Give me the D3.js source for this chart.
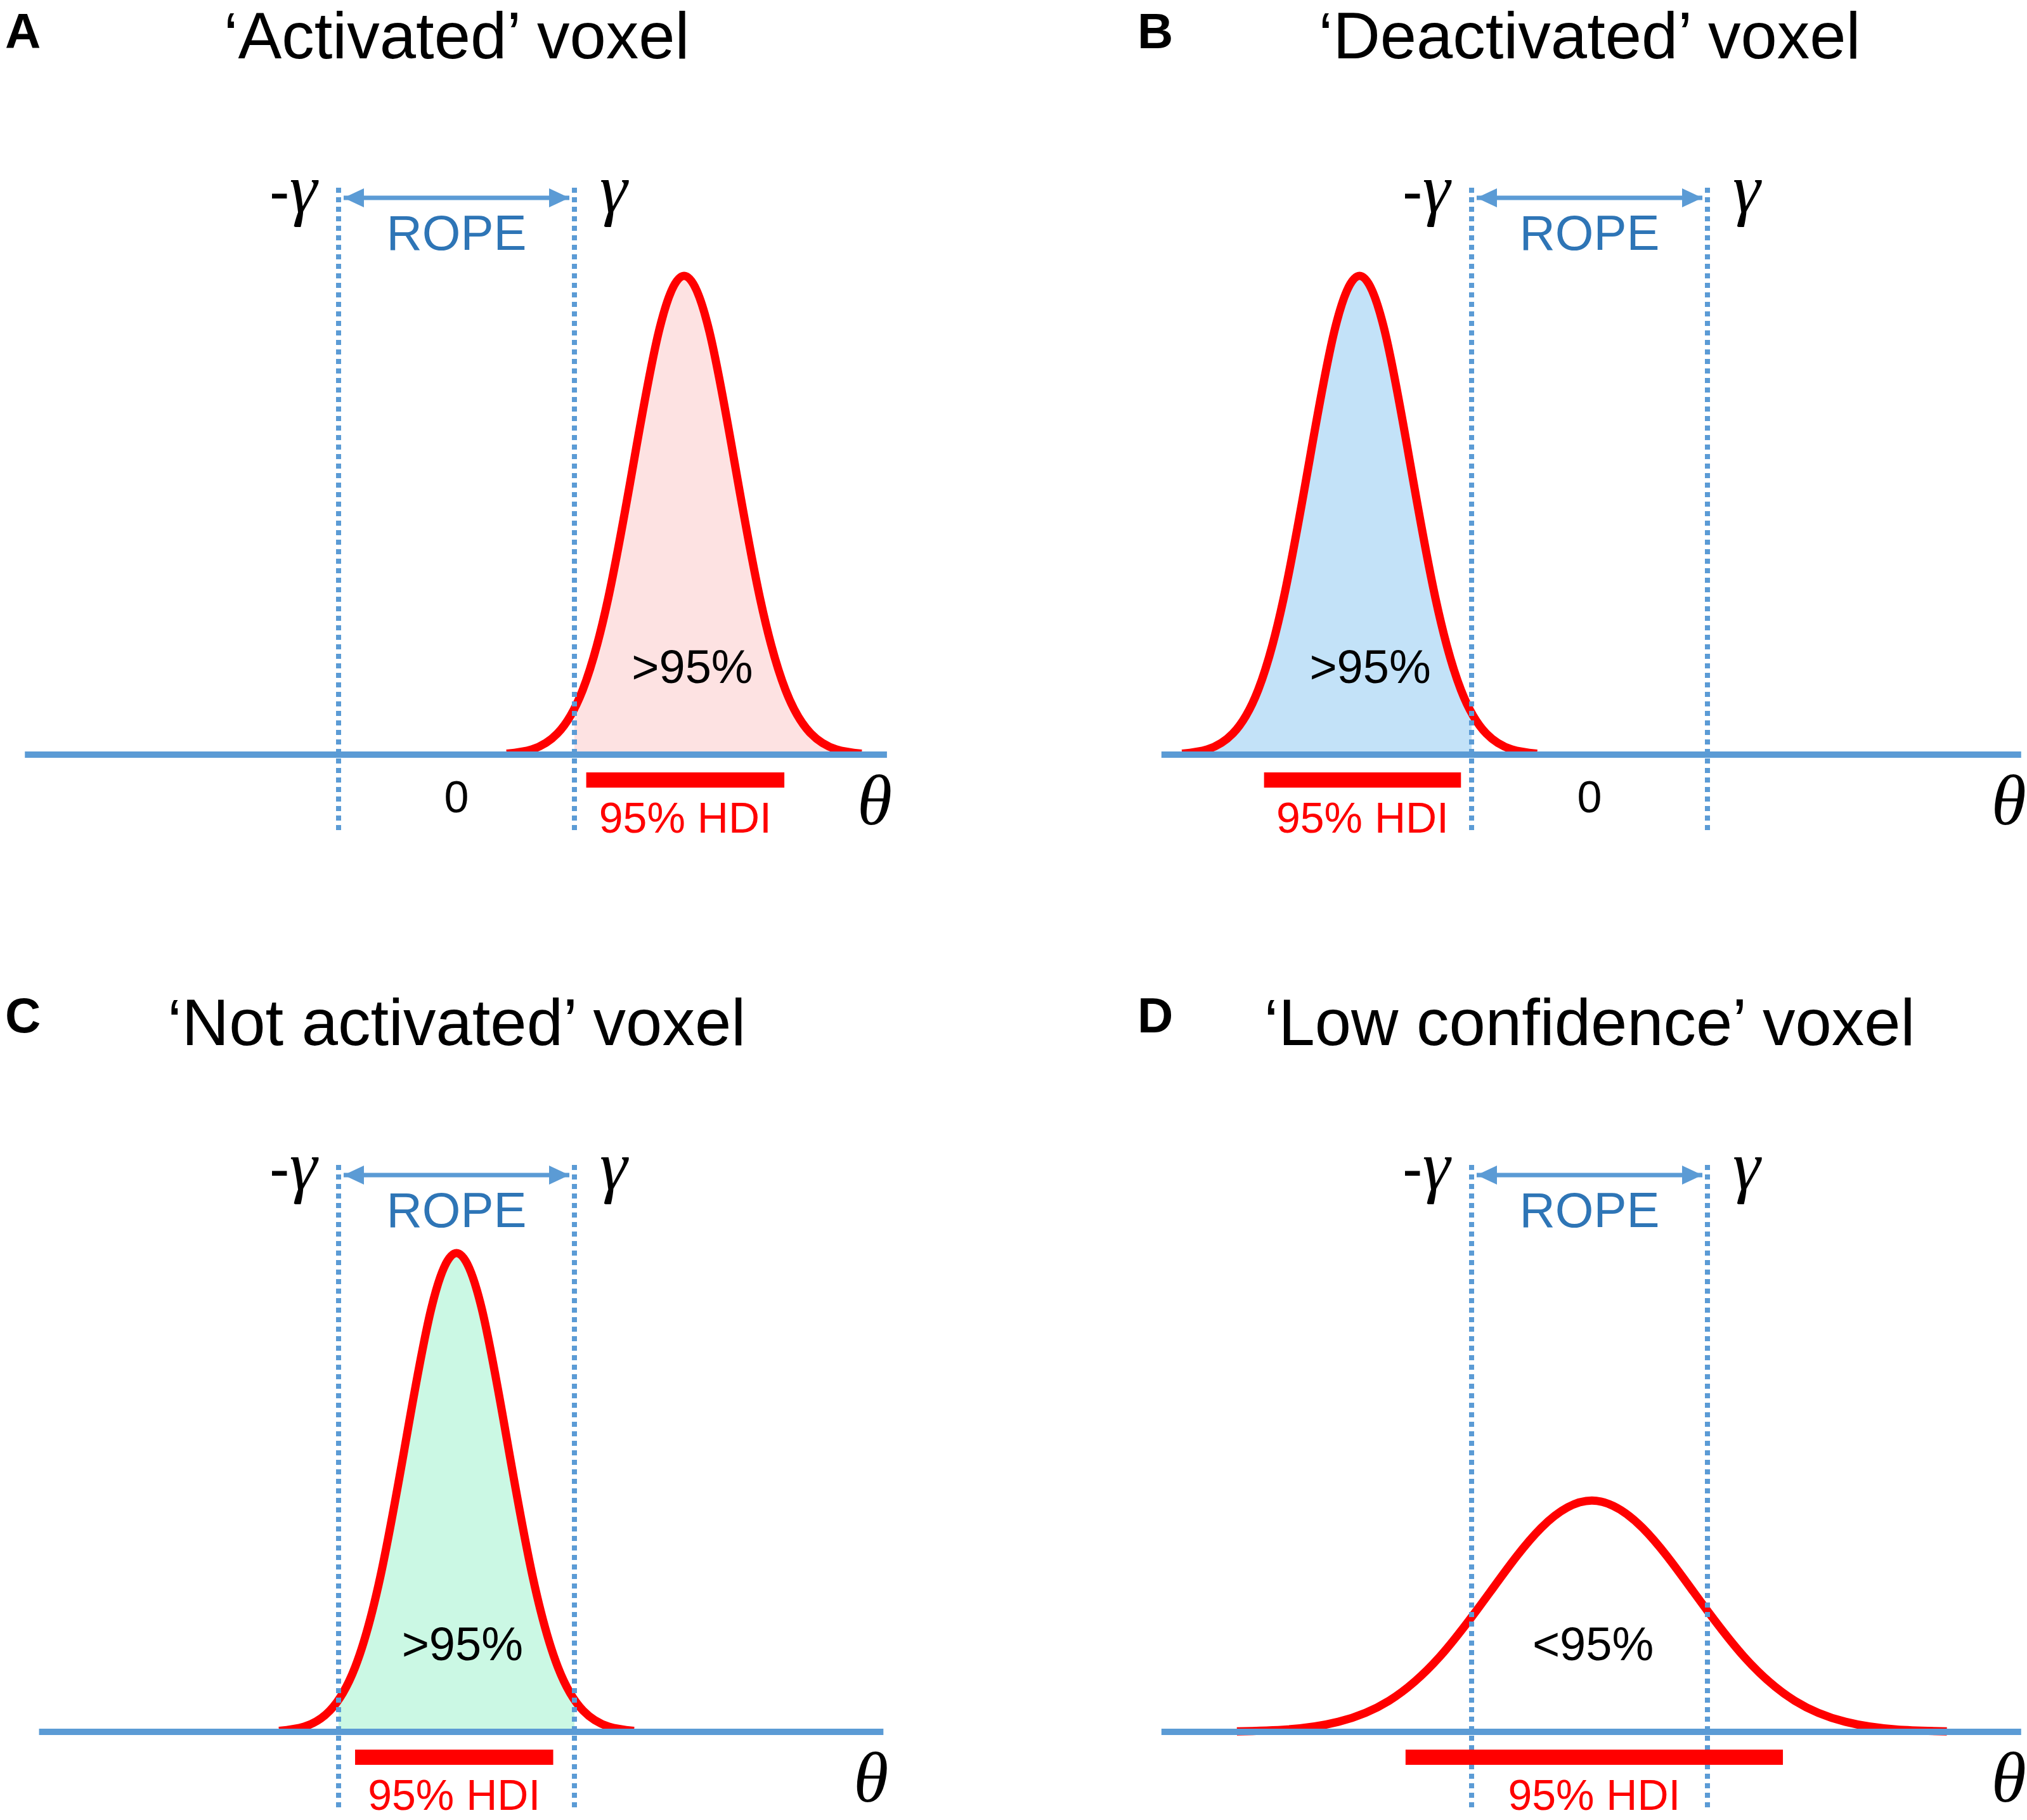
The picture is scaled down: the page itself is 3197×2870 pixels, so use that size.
<!DOCTYPE html>
<html>
<head>
<meta charset="utf-8">
<script src="https://cdnjs.cloudflare.com/ajax/libs/d3/7.8.5/d3.min.js"></script>
<style>
  body { margin: 0; background: #fff; }
  svg { display: block; }
</style>
</head>
<body>
<div id="chart"></div>
<script>
// panel data
const panelLetters = ['A', 'B', 'C', 'D'];
const panelTitles = ['‘Activated’ voxel', '‘Deactivated’ voxel', '‘Not activated’ voxel', '‘Low confidence’ voxel'];
const ropeBounds = [-1, 1];
const axisExtents = [[-3.66, 3.65], [-3.63, 3.66], [-3.54, 3.62], [-3.63, 3.66]];

// posterior curves (theta, relative height)
const curveTheta = [
    [0.425, 0.64, 0.855, 1.07, 1.285, 1.50, 1.715, 1.93, 2.145, 2.36, 2.575, 2.79, 3.005, 3.22, 3.435],
    [-3.455, -3.24, -3.025, -2.81, -2.595, -2.38, -2.165, -1.95, -1.735, -1.52, -1.305, -1.09, -0.875, -0.66, -0.445],
    [-1.505, -1.29, -1.075, -0.86, -0.645, -0.43, -0.215, 0, 0.215, 0.43, 0.645, 0.86, 1.075, 1.29, 1.505],
    [-2.99, -2.56, -2.13, -1.70, -1.27, -0.84, -0.41, 0.02, 0.45, 0.88, 1.31, 1.74, 2.17, 2.60, 3.03]
];
const curveHeight = [
    [0.002, 0.011, 0.044, 0.135, 0.325, 0.607, 0.883, 1, 0.883, 0.607, 0.325, 0.135, 0.044, 0.011, 0.002],
    [0.002, 0.011, 0.044, 0.135, 0.325, 0.607, 0.883, 1, 0.883, 0.607, 0.325, 0.135, 0.044, 0.011, 0.002],
    [0.002, 0.011, 0.044, 0.135, 0.325, 0.607, 0.883, 1, 0.883, 0.607, 0.325, 0.135, 0.044, 0.011, 0.002],
    [0.001, 0.005, 0.021, 0.065, 0.157, 0.293, 0.426, 0.483, 0.426, 0.293, 0.157, 0.065, 0.021, 0.005, 0.001]
];
const fillRanges = [[1, 5], [-5, -1], [-1, 1], null];
const fillColors = ['#fde2e2', '#c3e2f8', '#cbf8e4', 'none'];
const hdiRanges = [[1.10, 2.78], [-2.76, -1.09], [-0.86, 0.82], [-1.56, 1.64]];
const massLabels = ['>95%', '>95%', '>95%', '<95%'];
const massLabelTheta = [2.0, -1.86, 0.05, 0.03];
const massLabelHeight = [0.15, 0.15, 0.15, 0.15];
const showZero = [true, true, false, false];

const W = 3197, H = 2870;
const blue = '#5b9bd5';
const red = '#ff0000';

// where each panel sits: x of theta = 0, y of baseline
const origins = [[720, 1190], [2507, 1190], [720, 2731], [2507, 2731]];
const titleBase = [92, 92, 1648, 1648];
const letterX = [8, 1794, 8, 1794];
const letterBase = [76, 76, 1628, 1628];

const svg = d3.select('#chart').append('svg')
    .attr('width', W)
    .attr('height', H)
    .attr('viewBox', [0, 0, W, H]);
svg.append('rect').attr('width', W).attr('height', H).attr('fill', '#fff');

const defs = svg.append('defs');
defs.append('marker')
    .attr('id', 'head')
    .attr('markerUnits', 'userSpaceOnUse')
    .attr('markerWidth', 32)
    .attr('markerHeight', 30)
    .attr('refX', 32)
    .attr('refY', 15)
    .attr('orient', 'auto-start-reverse')
    .append('path')
    .attr('d', 'M0,0L32,15L0,30Z')
    .attr('fill', blue);

panelLetters.forEach((letter, i) => {
    const [zx, by] = origins[i];
    const x = d3.scaleLinear().domain([-1, 1]).range([zx - 186, zx + 186]);
    const y = d3.scaleLinear().domain([0, 1]).range([by, by - 755]);
    const g = svg.append('g').attr('class', 'panel');

    // letter + title
    g.append('text')
        .attr('x', letterX[i])
        .attr('y', letterBase[i])
        .attr('font-family', 'Liberation Sans, Arial, sans-serif')
        .attr('font-weight', 'bold')
        .attr('font-size', 78)
        .text(letter);
    g.append('text')
        .attr('x', x(0))
        .attr('y', titleBase[i])
        .attr('text-anchor', 'middle')
        .attr('font-family', 'Liberation Sans, Arial, sans-serif')
        .attr('font-size', 103)
        .text(panelTitles[i]);

    const pts = curveTheta[i].map((t, k) => [t, curveHeight[i][k]]);

    // shaded mass
    if (fillRanges[i]) {
        const clipId = 'clip' + i;
        const fr = fillRanges[i];
        defs.append('clipPath').attr('id', clipId)
            .append('rect')
            .attr('x', x(fr[0]))
            .attr('y', 0)
            .attr('width', x(fr[1]) - x(fr[0]))
            .attr('height', H);
        const area = d3.area()
            .x(d => x(d[0]))
            .y0(y(0))
            .y1(d => y(d[1]))
            .curve(d3.curveNatural);
        g.append('path')
            .attr('d', area(pts))
            .attr('fill', fillColors[i])
            .attr('clip-path', `url(#${clipId})`);
    }

    const line = d3.line()
        .x(d => x(d[0]))
        .y(d => y(d[1]))
        .curve(d3.curveNatural);
    g.append('path')
        .attr('d', line(pts))
        .attr('fill', 'none')
        .attr('stroke', red)
        .attr('stroke-width', 13)
        .attr('stroke-linejoin', 'round');

    // theta axis
    g.append('line')
        .attr('x1', x(axisExtents[i][0]))
        .attr('x2', x(axisExtents[i][1]))
        .attr('y1', y(0))
        .attr('y2', y(0))
        .attr('stroke', blue)
        .attr('stroke-width', 10);

    // ROPE bounds
    ropeBounds.forEach(b => {
        g.append('line')
            .attr('x1', x(b))
            .attr('x2', x(b))
            .attr('y1', by - 894)
            .attr('y2', by + 125)
            .attr('stroke', blue)
            .attr('stroke-width', 8)
            .attr('stroke-dasharray', '8,7');
    });
    g.append('line')
        .attr('x1', x(-1) + 8)
        .attr('x2', x(1) - 8)
        .attr('y1', by - 878)
        .attr('y2', by - 878)
        .attr('stroke', blue)
        .attr('stroke-width', 7)
        .attr('marker-start', 'url(#head)')
        .attr('marker-end', 'url(#head)');
    g.append('text')
        .attr('x', x(0))
        .attr('y', by - 796)
        .attr('text-anchor', 'middle')
        .attr('font-family', 'Liberation Sans, Arial, sans-serif')
        .attr('font-size', 78)
        .attr('fill', '#2e75b6')
        .text('ROPE');

    const lg = g.append('text')
        .attr('x', x(-1) - 34)
        .attr('y', by - 855)
        .attr('text-anchor', 'end')
        .attr('font-size', 110);
    lg.append('tspan').attr('font-family', 'Liberation Sans, Arial, sans-serif').attr('font-size', 96).text('-');
    lg.append('tspan').attr('font-family', 'Liberation Serif, Times New Roman, serif').attr('font-style', 'italic').text('γ');
    g.append('text')
        .attr('x', x(1) + 40)
        .attr('y', by - 855)
        .attr('font-family', 'Liberation Serif, Times New Roman, serif')
        .attr('font-style', 'italic')
        .attr('font-size', 110)
        .text('γ');

    // HDI bar
    g.append('line')
        .attr('x1', x(hdiRanges[i][0]))
        .attr('x2', x(hdiRanges[i][1]))
        .attr('y1', by + 40)
        .attr('y2', by + 40)
        .attr('stroke', red)
        .attr('stroke-width', 24);
    g.append('text')
        .attr('x', x((hdiRanges[i][0] + hdiRanges[i][1]) / 2))
        .attr('y', by + 123)
        .attr('text-anchor', 'middle')
        .attr('font-family', 'Liberation Sans, Arial, sans-serif')
        .attr('font-size', 68)
        .attr('fill', red)
        .text('95% HDI');

    g.append('text')
        .attr('x', x(massLabelTheta[i]))
        .attr('y', y(massLabelHeight[i]))
        .attr('text-anchor', 'middle')
        .attr('font-family', 'Liberation Sans, Arial, sans-serif')
        .attr('font-size', 74)
        .text(massLabels[i]);

    if (showZero[i]) {
        g.append('text')
            .attr('x', x(0))
            .attr('y', by + 91)
            .attr('text-anchor', 'middle')
            .attr('font-family', 'Liberation Sans, Arial, sans-serif')
            .attr('font-size', 70)
            .text('0');
    }

    g.append('text')
        .attr('x', x(axisExtents[i][1]) + 8)
        .attr('y', by + 110)
        .attr('text-anchor', 'end')
        .attr('font-family', 'Liberation Serif, Times New Roman, serif')
        .attr('font-style', 'italic')
        .attr('font-size', 112)
        .text('θ');
});
</script>
</body>
</html>
